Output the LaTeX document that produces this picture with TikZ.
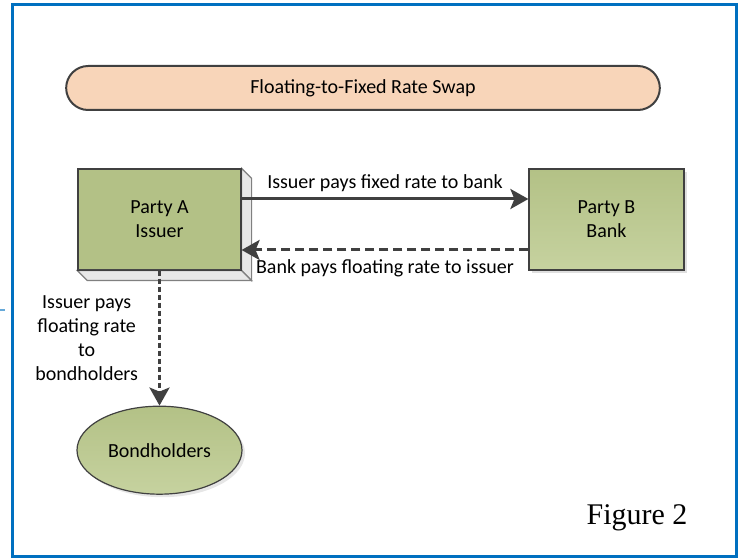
\documentclass[tikz,border=0pt]{standalone}
\usepackage{fontspec}
\setmainfont{Carlito}
\newfontfamily\figfont{Liberation Serif}
\usetikzlibrary{positioning,shapes.geometric,shapes.misc,arrows.meta,shadows}
\definecolor{frameblue}{HTML}{0070C0}
\definecolor{titlefill}{HTML}{F8D5B9}
\definecolor{partyfill}{HTML}{B3C186}
\definecolor{partylight}{HTML}{C6D29F}
\definecolor{edgegray}{HTML}{404040}
\definecolor{sidegray}{HTML}{E8E8E8}

\begin{document}
\begin{tikzpicture}[x=0.5pt,y=-0.5pt,
    every node/.append style={font=\fontsize{10}{12}\selectfont, text=black},
    title bar/.style={rounded rectangle, draw=edgegray, line width=1pt, fill=titlefill,
      minimum width=303.5pt, minimum height=22pt},
    party/.style={rectangle, draw=edgegray, line width=0.6pt, minimum height=50.5pt,
      align=center, inner sep=0pt},
    holder/.style={ellipse, draw=edgegray, line width=0.6pt, top color=partyfill,
      bottom color=partylight, minimum width=82.5pt, minimum height=44pt,
      drop shadow={shadow xshift=1.5pt, shadow yshift=-1.5pt, opacity=0.2, fill=gray}},
    flow/.style={draw=edgegray, line width=1.5pt,
      -{Stealth[length=9pt,width=10pt,inset=2pt]}},
    flow dashed/.style={flow, dash pattern=on 4.5pt off 2.5pt},
    flow dotted/.style={flow, dash pattern=on 2.5pt off 1.5pt},
    flow label/.style={align=center, inner sep=1pt}
  ]
  \useasboundingbox (0,0) rectangle (741,560);
  % Frame
  \draw[frameblue, line width=1.5pt] (12,5) rectangle (736,557);
  \draw[frameblue!60, line width=0.8pt] (0,310) -- (5,310);
  %
  \node[title bar] (swap) at (363,88) {Floating-to-Fixed Rate Swap};
  %
  % Parties
  \node[party, fill=partyfill, minimum width=81.5pt] (issuer) at (159.5,219.5) {Party A\\Issuer};
  \fill[sidegray, draw=gray, line width=0.6pt] (issuer.north east) -- ([shift={(10,10)}]issuer.north east)
    -- ([shift={(10,10)}]issuer.south east) -- (issuer.south east) -- cycle;
  \fill[sidegray, draw=gray, line width=0.6pt] (issuer.south west) -- ([shift={(10,10)}]issuer.south west)
    -- ([shift={(10,10)}]issuer.south east) -- (issuer.south east) -- cycle;
  \draw[edgegray, line width=0.6pt] (issuer.north west) rectangle (issuer.south east);
  %
  \node[party, top color=partyfill, bottom color=partylight, minimum width=77.5pt,
    drop shadow={shadow xshift=1.5pt, shadow yshift=-1.5pt, opacity=0.25, fill=gray}]
    (bank) at (606.5,219.5) {Party B\\Bank};
  %
  \node[holder, below=67.5pt of issuer] (holders) {Bondholders};
  %
  % Flows
  \draw[flow] ([yshift=10.25pt]issuer.east) -- ([yshift=10.25pt]bank.west)
    node[midway, above, flow label, yshift=2pt] {Issuer pays fixed rate to bank};
  \draw[flow dashed] ([yshift=-15.25pt]bank.west) -- ([yshift=-15.25pt]issuer.east)
    node[midway, below, flow label, yshift=-3pt] {Bank pays floating rate to issuer};
  \draw[flow dotted] (issuer.south) -- (holders.north)
    node[midway, left=9pt, flow label] {Issuer pays\\floating rate\\to\\bondholders};
  %
  \node[font=\figfont\fontsize{15}{18}\selectfont, anchor=base] (fig) at (637,525) {Figure 2};
\end{tikzpicture}
\end{document}
